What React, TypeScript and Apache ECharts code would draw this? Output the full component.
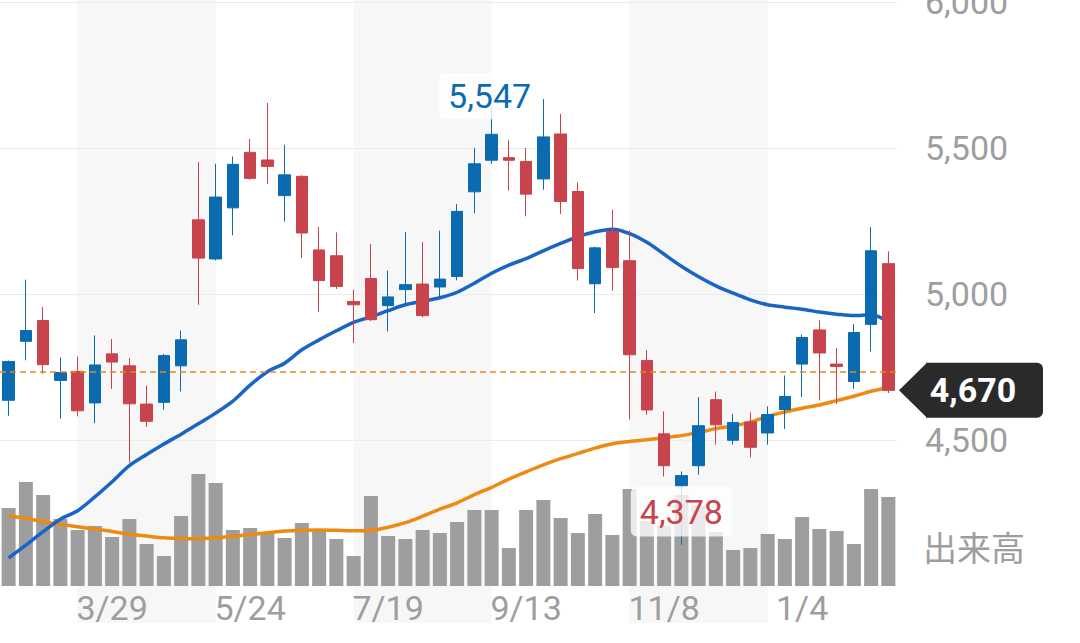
import React, { useEffect, useRef } from 'react';
import * as echarts from 'echarts';

// Weekly categories
const dates = [
  '2/15', '2/22', '3/1', '3/8', '3/15', '3/22', '3/29', '4/5', '4/12', '4/19',
  '4/26', '5/3', '5/10', '5/17', '5/24', '5/31', '6/7', '6/14', '6/21', '6/28',
  '7/5', '7/12', '7/19', '7/26', '8/2', '8/9', '8/16', '8/23', '8/30', '9/6',
  '9/13', '9/20', '9/27', '10/4', '10/11', '10/18', '10/25', '11/1', '11/8', '11/15',
  '11/22', '11/29', '12/6', '12/13', '12/20', '12/27', '1/4', '1/11', '1/18', '1/25',
  '2/1', '2/8',
];
const tickDates = ['3/29', '5/24', '7/19', '9/13', '11/8', '1/4'];

const openP = [
  4636, 4838, 4909, 4704, 4735, 4627, 4795, 4754, 4623, 4629,
  4754, 5254, 5120, 5295, 5485, 5459, 5337, 5403, 5151, 5131,
  4974, 5053, 4960, 5015, 5034, 5024, 5060, 5350, 5458, 5467,
  5454, 5394, 5548, 5351, 5035, 5214, 5114, 4772, 4521, 4343,
  4412, 4638, 4499, 4562, 4524, 4604, 4760, 4877, 4760, 4700,
  4896, 5104,
];
const closeP = [
  4769, 4875, 4758, 4731, 4600, 4757, 4767, 4624, 4564, 4789,
  4843, 5123, 5332, 5444, 5396, 5437, 5408, 5209, 5046, 5026,
  4963, 4912, 4990, 5032, 4926, 5051, 5283, 5446, 5547, 5458,
  5342, 5538, 5317, 5087, 5158, 5091, 4792, 4603, 4412, 4378,
  4549, 4552, 4560, 4475, 4587, 4649, 4851, 4798, 4752, 4868,
  5148, 4670,
];
const lowP = [
  4583, 4773, 4727, 4573, 4581, 4558, 4675, 4423, 4545, 4604,
  4666, 4963, 5115, 5201, 5391, 5377, 5248, 5123, 4939, 5017,
  4832, 4908, 4872, 4969, 4920, 4992, 5047, 5277, 5446, 5354,
  5266, 5357, 5274, 5046, 4935, 5011, 4570, 4586, 4375, 4141,
  4381, 4484, 4484, 4440, 4484, 4538, 4647, 4636, 4623, 4675,
  4803, 4661,
];
const highP = [
  4772, 5049, 4955, 4783, 4786, 4858, 4846, 4781, 4686, 4795,
  4875, 5452, 5446, 5471, 5531, 5654, 5511, 5406, 5230, 5211,
  5015, 5171, 5080, 5212, 5178, 5217, 5308, 5500, 5638, 5528,
  5500, 5668, 5617, 5382, 5162, 5289, 5218, 4808, 4598, 4392,
  4647, 4666, 4590, 4595, 4615, 4721, 4861, 4910, 4815, 4897,
  5229, 5146,
];
const volume = [
  780, 1040, 910, 670, 560, 600, 490, 670, 420, 300,
  700, 1120, 1030, 560, 580, 540, 480, 630, 570, 470,
  300, 900, 500, 470, 560, 530, 640, 760, 760, 380,
  760, 860, 680, 530, 720, 510, 970, 650, 600, 910,
  800, 540, 360, 380, 520, 470, 690, 570, 550, 420,
  970, 890,
];
const maShort = [
  4096, 4140, 4186, 4229, 4258, 4305, 4357, 4412, 4450, 4486,
  4520, 4556, 4592, 4633, 4688, 4734, 4763, 4809, 4843, 4874,
  4903, 4922, 4943, 4963, 4975, 4987, 5006, 5037, 5071, 5099,
  5121, 5148, 5173, 5196, 5213, 5222, 5207, 5177, 5136, 5095,
  5059, 5028, 5003, 4980, 4963, 4955, 4948, 4938, 4931, 4926,
  4929, 4905,
];
const maLong = [
  4241, 4231, 4221, 4211, 4203, 4195, 4187, 4177, 4171, 4165,
  4163, 4162, 4165, 4170, 4176, 4182, 4188, 4191, 4192, 4191,
  4189, 4190, 4201, 4217, 4239, 4263, 4285, 4313, 4338, 4366,
  4391, 4415, 4436, 4454, 4472, 4487, 4495, 4501, 4508, 4515,
  4526, 4539, 4548, 4561, 4581, 4596, 4609, 4620, 4635, 4650,
  4667, 4679,
];
const lastPrice = 4670;
const referencePrice = 4735;
const highMark = { index: 28, value: 5547 };
const lowMark = { index: 39, value: 4378 };
const shadedBands = [
  [4, 12],
  [20, 28],
  [36, 44],
];

const UP = '#0a6bb0';
const DOWN = '#c8434b';
const GREY_TEXT = '#9e9e9e';
const FONT = 'Roboto, "Noto Sans", sans-serif';

const fmt = (v: number) => v.toLocaleString('en-US');

export default function App() {
  const ref = useRef<HTMLDivElement>(null);

  useEffect(() => {
    if (!ref.current) return;
    const chart = echarts.init(ref.current, undefined, { renderer: 'svg' });
    const gridRight = 183;
    const gridBottom = 57;

    chart.setOption({
      animation: false,
      backgroundColor: '#ffffff',
      grid: [
        { left: 0, right: gridRight, top: 2, bottom: gridBottom, containLabel: false, outerBoundsMode: 'none' },
        { left: 0, right: gridRight, top: 436, bottom: gridBottom, containLabel: false, outerBoundsMode: 'none' },
      ],
      xAxis: [
        {
          type: 'category',
          gridIndex: 0,
          data: dates,
          boundaryGap: true,
          axisLine: { show: false },
          axisTick: { show: false },
          axisLabel: { show: false },
          splitLine: { show: false },
        },
        {
          type: 'category',
          gridIndex: 1,
          data: dates,
          boundaryGap: true,
          axisLine: { show: false },
          axisTick: { show: false },
          splitLine: { show: false },
          axisLabel: {
            interval: (_i: number, v: string) => tickDates.includes(v),
            fontSize: 34,
            color: GREY_TEXT,
            fontFamily: FONT,
            margin: 5,
          },
        },
      ],
      yAxis: [
        {
          type: 'value',
          gridIndex: 0,
          position: 'right',
          min: 4000,
          max: 6000,
          interval: 500,
          axisLine: { show: false },
          axisTick: { show: false },
          axisLabel: {
            showMinLabel: false,
            fontSize: 34,
            color: GREY_TEXT,
            fontFamily: FONT,
            margin: 28,
            formatter: (v: number) => (v === 4000 ? '' : fmt(v)),
          },
          splitLine: {
            show: true,
            showMinLine: false,
            lineStyle: { color: '#ececec', width: 1 },
          },
        },
        {
          type: 'value',
          gridIndex: 1,
          min: 0,
          max: 1500,
          show: false,
          splitLine: { show: false },
        },
      ],
      series: [
        {
          name: '出来高',
          type: 'bar',
          xAxisIndex: 1,
          yAxisIndex: 1,
          data: volume,
          barWidth: 14,
          itemStyle: { color: '#9e9e9e' },
          z: 1,
        },
        {
          name: 'MA26',
          type: 'line',
          data: maLong,
          symbol: 'none',
          smooth: 0.3,
          lineStyle: { color: '#ee8a12', width: 3.5 },
          z: 3,
        },
        {
          name: 'MA13',
          type: 'line',
          data: maShort,
          symbol: 'none',
          smooth: 0.3,
          lineStyle: { color: '#1a64c6', width: 3.5 },
          z: 3,
        },
        {
          name: 'price',
          type: 'candlestick',
          data: dates.map((_, i) => [openP[i], closeP[i], lowP[i], highP[i]]),
          barWidth: 12,
          itemStyle: {
            color: UP,
            color0: DOWN,
            borderColor: UP,
            borderColor0: DOWN,
            borderWidth: 1,
          },
          z: 4,
          markLine: {
            silent: true,
            symbol: ['none', 'none'],
            label: { show: false },
            lineStyle: { color: '#e8871e', width: 1.5, type: [6, 4] },
            data: [{ yAxis: referencePrice }],
          },
          markPoint: {
            silent: true,
            symbol: 'circle',
            symbolSize: 1,
            itemStyle: { color: 'rgba(0,0,0,0)' },
            data: [
              {
                coord: [highMark.index, highMark.value],
                value: highMark.value,
                label: {
                  show: true,
                  position: 'inside',
                  offset: [-2, -38],
                  formatter: fmt(highMark.value),
                  color: '#0a6bb0',
                  fontSize: 34,
                  fontFamily: FONT,
                  backgroundColor: 'rgba(255,255,255,0.8)',
                  padding: [7, 9, 5, 9],
                  borderRadius: 6,
                },
              },
              {
                coord: [lowMark.index, lowMark.value],
                value: lowMark.value,
                label: {
                  show: true,
                  position: 'inside',
                  offset: [0, 36],
                  formatter: fmt(lowMark.value),
                  color: '#c8434b',
                  fontSize: 34,
                  fontFamily: FONT,
                  backgroundColor: 'rgba(255,255,255,0.78)',
                  padding: [9, 9, 7, 9],
                  borderRadius: 6,
                },
              },
            ],
          },
        },
      ],
    });

    // Annotations positioned through the chart's own scales
    const W = chart.getWidth();
    const H = chart.getHeight();
    const plotRight = W - gridRight;
    const graphics: any[] = [];
    shadedBands.forEach(([a, b]) => {
      const xa = chart.convertToPixel({ xAxisIndex: 0 }, a) as number;
      const xb = chart.convertToPixel({ xAxisIndex: 0 }, b) as number;
      graphics.push({
        type: 'rect',
        z: -10,
        silent: true,
        shape: { x: xa, y: 0, width: xb - xa, height: H - 20 },
        style: { fill: '#f7f7f7' },
      });
    });
    const yLast = chart.convertToPixel({ yAxisIndex: 0 }, lastPrice) as number;
    const tipX = plotRight + 2;
    graphics.push({
      type: 'polygon',
      z: 100,
      shape: {
        points: [
          [tipX, yLast],
          [tipX + 28, yLast - 27.5],
          [tipX + 28, yLast + 27.5],
        ],
      },
      style: { fill: '#2a2a2a' },
    });
    graphics.push({
      type: 'rect',
      z: 100,
      shape: { x: tipX + 27, y: yLast - 27.5, width: 117, height: 55, r: [0, 6, 6, 0] },
      style: { fill: '#2a2a2a' },
    });
    graphics.push({
      type: 'text',
      z: 101,
      x: tipX + 74,
      y: yLast,
      style: {
        text: fmt(lastPrice),
        fill: '#ffffff',
        fontSize: 34,
        fontWeight: 'bold',
        fontFamily: FONT,
        align: 'center',
        verticalAlign: 'middle',
      },
    });
    graphics.push({
      type: 'text',
      z: 100,
      x: plotRight + 26,
      y: H - gridBottom - 40,
      style: {
        text: '出来高',
        fill: GREY_TEXT,
        fontSize: 34,
        fontFamily: '"Noto Sans CJK JP", sans-serif',
        align: 'left',
        verticalAlign: 'middle',
      },
    });
    chart.setOption({ graphic: graphics });

    return () => chart.dispose();
  }, []);

  return (
    <div
      ref={ref}
      style={{ position: 'fixed', left: 0, top: 0, width: 1080, height: 643, background: '#fff' }}
    />
  );
}
